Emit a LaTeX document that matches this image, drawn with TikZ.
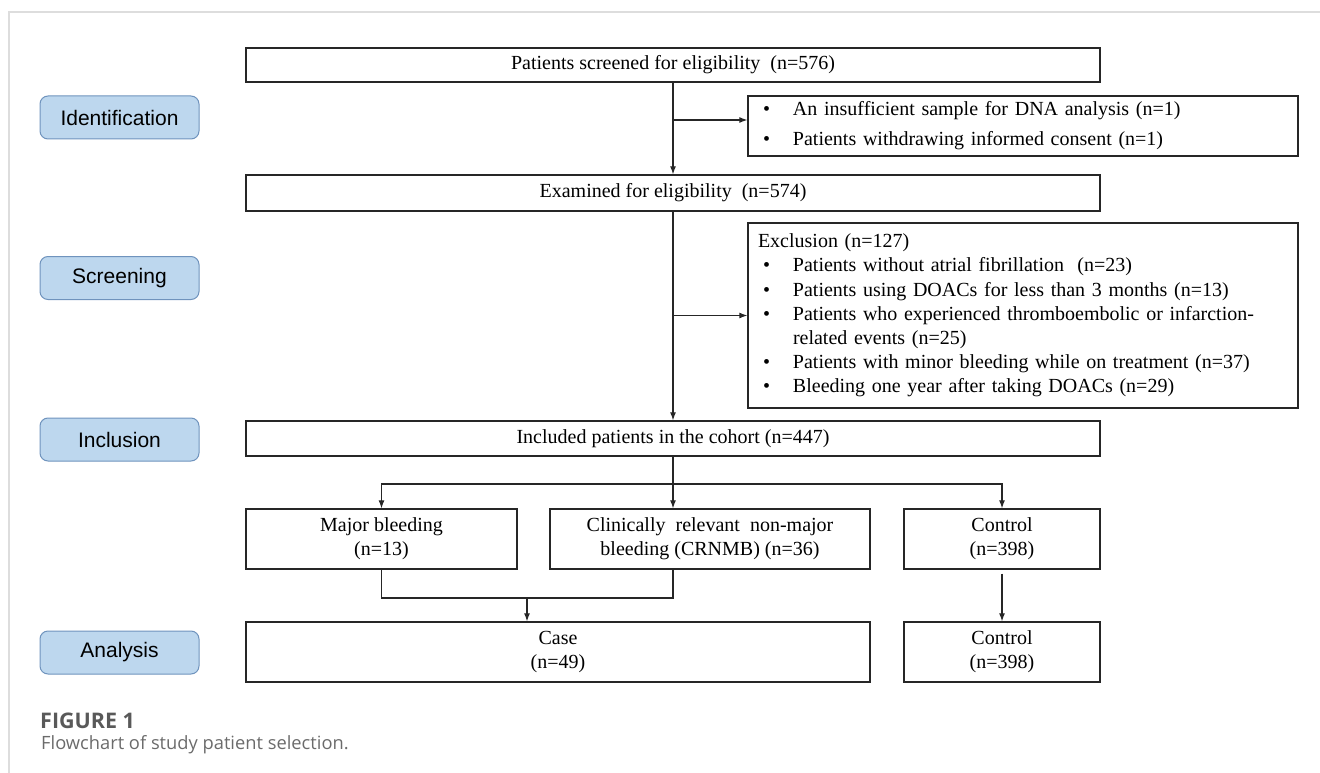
\documentclass[tikz,border=0pt]{standalone}
\usepackage{fontspec}
\setmainfont{Liberation Serif}
\newfontfamily\labelfont{Liberation Sans}
\newfontfamily\capfont{Open Sans}
\usetikzlibrary{arrows.meta,calc}
\definecolor{lblfill}{HTML}{BDD7EE}
\definecolor{lbldraw}{HTML}{6F93BD}
\definecolor{framegray}{HTML}{DDDDDD}
\definecolor{linecol}{HTML}{262626}
\begin{document}
\begin{tikzpicture}[x=1pt,y=-1pt,
  box/.style={draw=linecol, line width=1.3pt, fill=white, inner sep=0pt, align=center, font=\fontsize{20}{24}\selectfont},
  listbox/.style={draw=linecol, line width=1.3pt, fill=white, inner xsep=10pt, inner ysep=0pt, text width=530pt, align=left},
  lbl/.style={draw=lbldraw, fill=lblfill, rounded corners=8pt, line width=1pt, minimum width=159pt, minimum height=43pt, inner sep=0pt, font=\labelfont\fontsize{21}{25}\selectfont},
  arr/.style={-{Latex[length=8pt,width=6pt]}, line width=1.2pt, draw=linecol},
  link/.style={line width=1.2pt, draw=linecol}]
\useasboundingbox (0,0) rectangle (1320,773);
\draw[framegray, line width=1.5pt] (9,773) -- (9,12) -- (1320,12);

\newcommand{\bul}{\hspace*{5pt}\makebox[30pt][l]{\textbullet}}

% stage labels
\node[lbl] (ident) at (119.5,117.5) {Identification};
\node[lbl] (scr) at (119.5,278) {Screening};
\node[lbl] (inc) at (119.5,439.5) {Inclusion};
\node[lbl] (ana) at (119.5,652.5) {Analysis};

% main boxes
\node[box, minimum width=854pt, minimum height=34pt] (top) at (673,65) {Patients screened for eligibility \ (n=576)};
\node[listbox, minimum height=60pt, font=\fontsize{20}{30}\selectfont] (excl1) at (1023,126)
  {\bul An insufficient sample for DNA analysis (n=1)\\
   \bul Patients withdrawing informed consent (n=1)};
\node[box, minimum width=854pt, minimum height=36pt] (exam) at (673,193) {Examined for eligibility \ (n=574)};
\node[listbox, minimum height=185pt, font=\fontsize{20}{24.2}\selectfont] (excl2) at (1023,315.5)
  {Exclusion (n=127)\\
   \bul Patients without atrial fibrillation \ (n=23)\\
   \bul Patients using DOACs for less than 3 months (n=13)\\
   \bul Patients who experienced thromboembolic or infarction-\\
   \hspace*{35pt}related events (n=25)\\
   \bul Patients with minor bleeding while on treatment (n=37)\\
   \bul Bleeding one year after taking DOACs (n=29)};
\node[box, minimum width=854pt, minimum height=35pt] (incl) at (673,438.5) {Included patients in the cohort (n=447)};

\node[box, minimum width=271pt, minimum height=60pt] (major) at (381.5,539) {Major bleeding\\(n=13)};
\node[box, minimum width=320pt, minimum height=60pt] (crnmb) at (710,539) {Clinically \ relevant \ non-major\\bleeding (CRNMB) (n=36)};
\node[box, minimum width=196pt, minimum height=60pt] (ctrl1) at (1002,539) {Control\\(n=398)};
\node[box, minimum width=624pt, minimum height=60pt] (case) at (558,652) {Case\\(n=49)};
\node[box, minimum width=196pt, minimum height=60pt] (ctrl2) at (1002,652) {Control\\(n=398)};

% connectors
\draw[arr] (top) -- (exam);
\coordinate (e1) at ([yshift=6pt]excl1.west);
\draw[arr] (e1 -| top.south) -- (e1);
\draw[arr] (excl2.west -| exam.south) -- (excl2.west);
\draw[arr] (exam) -- (incl);
\coordinate (br) at (673,484);
\draw[arr] (incl.south) -- (incl.south |- crnmb.north);
\draw[arr] (br) -| (major.north);
\draw[arr] (br) -| (ctrl1.north);
\coordinate (mg) at (527,598);
\draw[link] (major.south) |- (incl.south |- mg) -- (incl.south |- crnmb.south);
\draw[arr] (mg) -- (mg |- case.north);
\coordinate (c1) at ([yshift=-4pt]ctrl1.south);
\draw[arr] (c1) -- (ctrl2.north);

% caption
\node[anchor=west, inner sep=0pt, font=\capfont\bfseries\fontsize{21.5}{24}\selectfont, text=black!65] (fig) at (40,721) {FIGURE 1};
\node[anchor=west, inner sep=0pt, font=\capfont\fontsize{18.3}{22}\selectfont, text=black!58] (cap) at (41,745) {Flowchart of study patient selection.};
\end{tikzpicture}
\end{document}
